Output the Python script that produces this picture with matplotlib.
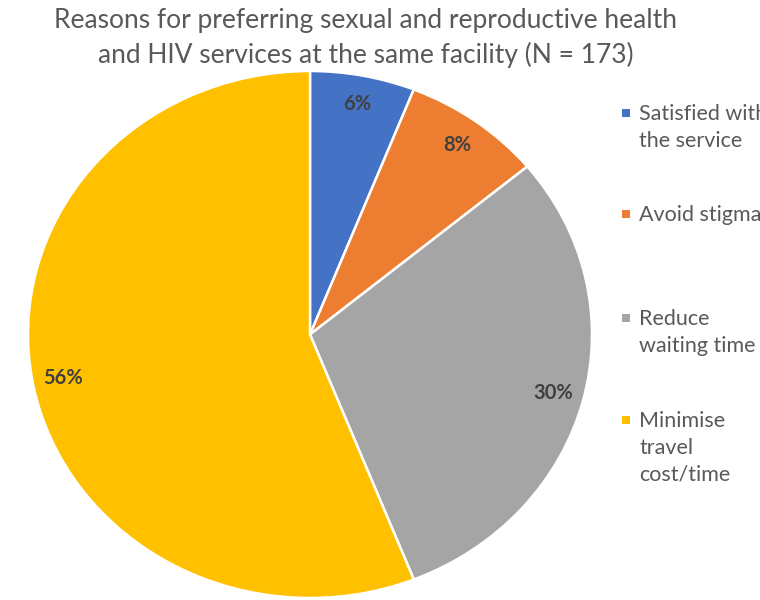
import matplotlib
matplotlib.use("Agg")
import matplotlib.pyplot as plt
from matplotlib.patches import Rectangle
import numpy as np

title = "Reasons for preferring sexual and reproductive health\nand HIV services at the same facility (N = 173)"
categories = ["Satisfied with\nthe service", "Avoid stigma", "Reduce\nwaiting time", "Minimise\ntravel\ncost/time"]
shares = [6, 8, 30, 56]
colors = ["#4472C4", "#ED7D31", "#A5A5A5", "#FFC000"]

plt.rcParams["font.family"] = ["Lato", "DejaVu Sans"]
text_gray = "#595959"

fig = plt.figure(figsize=(7.6, 6.0), dpi=100)
ax = fig.add_axes([28 / 760, 2 / 600, 564 / 760, 527 / 600])

wedges, _ = ax.pie(shares, colors=colors, startangle=90, counterclock=False,
                   radius=1.0,
                   wedgeprops=dict(edgecolor="white", linewidth=1.8))
ax.set_aspect("auto")
ax.set_xlim(-1, 1)
ax.set_ylim(-1, 1)

# percentage labels near the outer edge of each slice
cum = np.cumsum([0] + shares)
for i, v in enumerate(shares):
    mid = 90 - 360 * (cum[i] + v / 2) / 100
    r = 0.89
    x = r * np.cos(np.radians(mid))
    y = r * np.sin(np.radians(mid))
    ax.text(x, y, f"{v}%", ha="center", va="center", fontsize=14.5,
            fontweight="bold", color="#404040")

fig.text(366 / 760, 1 - 38 / 600, title, ha="center", va="center",
         fontsize=19, color=text_gray, linespacing=1.38)

# legend entries on the right; the panel runs past the figure edge
legend_y = [113, 214, 318, 420]
for lab, col, y in zip(categories, colors, legend_y):
    fig.patches.append(Rectangle((622 / 760, 1 - (y + 4) / 600), 8 / 760, 8 / 600,
                                 transform=fig.transFigure, facecolor=col,
                                 edgecolor="none"))
    fig.text(639 / 760, 1 - (y - 9) / 600, lab, ha="left", va="top",
             fontsize=15.5, color=text_gray, linespacing=1.42)

fig.savefig("out.png", dpi=100)
